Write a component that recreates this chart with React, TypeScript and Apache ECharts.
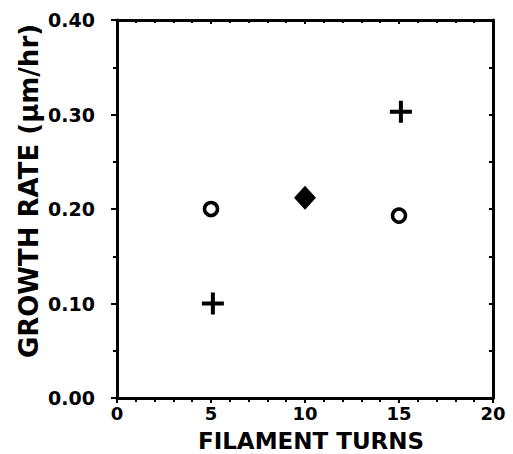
import React, { useEffect, useRef } from "react";
import * as echarts from "echarts";

const turnsCircle = [5, 15];
const rateCircle = [0.2, 0.193];
const turnsPlus = [5.1, 15.1];
const ratePlus = [0.1, 0.303];
const turnsDiamond = [10];
const rateDiamond = [0.212];

const xTicks = [0, 5, 10, 15, 20];
const yTicks = [0, 0.1, 0.2, 0.3, 0.4];

const xTitle = "FILAMENT TURNS";
const yTitle = "GROWTH RATE (μm/hr)";

const FONT = "DejaVu Sans";
const PLUS = "path://M9,0h4v9h9v4h-9v9h-4v-9h-9v-4h9z";

export default function App() {
  const ref = useRef<HTMLDivElement>(null);
  useEffect(() => {
    if (!ref.current) return;
    const chart = echarts.init(ref.current, undefined, { renderer: "svg" });
    const lineStyle = { color: "#000", width: 3 };
    const xBase = {
      type: "value" as const,
      min: xTicks[0],
      max: xTicks[xTicks.length - 1],
      interval: 5,
      splitLine: { show: false },
      axisLine: { show: true, onZero: false, lineStyle },
    };
    const yBase = {
      type: "value" as const,
      min: yTicks[0],
      max: yTicks[yTicks.length - 1],
      interval: 0.1,
      splitLine: { show: false },
      axisLine: { show: true, onZero: false, lineStyle },
    };
    chart.setOption({
      animation: false,
      backgroundColor: "#fff",
      grid: { left: 117, right: 20, top: 20, bottom: 56, containLabel: false },
      xAxis: [
        {
          ...xBase,
          position: "bottom",
          axisTick: { show: true, inside: false, length: 5, lineStyle: { color: "#000", width: 2 } },
          minorTick: { show: true, splitNumber: 5, length: 4, lineStyle: { color: "#000", width: 2 } },
          axisLabel: {
            show: true,
            margin: 6,
            color: "#000",
            fontFamily: FONT,
            fontWeight: "bold",
            fontSize: 18,
            lineHeight: 18,
            formatter: (v: number) => String(v),
          },
        },
        {
          ...xBase,
          position: "top",
          axisTick: { show: true, inside: true, length: 4, lineStyle: { color: "#000", width: 2 } },
          minorTick: { show: true, splitNumber: 5, length: 3, lineStyle: { color: "#000", width: 2 } },
          axisLabel: { show: false },
        },
      ],
      yAxis: [
        {
          ...yBase,
          position: "left",
          axisTick: { show: true, inside: false, length: 6, lineStyle: { color: "#000", width: 2 } },
          minorTick: { show: true, splitNumber: 2, length: 4, lineStyle: { color: "#000", width: 2 } },
          axisLabel: {
            show: true,
            margin: 22,
            color: "#000",
            fontFamily: FONT,
            fontWeight: "bold",
            fontSize: 19,
            formatter: (v: number) => v.toFixed(2),
          },
        },
        {
          ...yBase,
          position: "right",
          axisTick: { show: true, inside: true, length: 4, lineStyle: { color: "#000", width: 2 } },
          minorTick: { show: true, splitNumber: 2, length: 4, lineStyle: { color: "#000", width: 2 } },
          axisLabel: { show: false },
        },
      ],
      graphic: [
        {
          type: "text",
          x: 311,
          y: 441,
          style: {
            text: xTitle,
            fill: "#000",
            font: `bold 23px "${FONT}"`,
            textAlign: "center",
            textVerticalAlign: "middle",
          },
        },
        {
          type: "text",
          x: 29,
          y: 191,
          rotation: Math.PI / 2,
          style: {
            text: yTitle,
            fill: "#000",
            font: `bold 26px "${FONT}"`,
            textAlign: "center",
            textVerticalAlign: "middle",
          },
        },
      ],
      series: [
        {
          type: "scatter",
          xAxisIndex: 0,
          yAxisIndex: 0,
          data: turnsCircle.map((x, i) => [x, rateCircle[i]]),
          symbol: "circle",
          symbolSize: 13,
          itemStyle: { color: "#fff", borderColor: "#000", borderWidth: 3.5, opacity: 1 },
        },
        {
          type: "scatter",
          xAxisIndex: 0,
          yAxisIndex: 0,
          data: turnsPlus.map((x, i) => [x, ratePlus[i]]),
          symbol: PLUS,
          symbolSize: 22,
          itemStyle: { color: "#000", opacity: 1 },
        },
        {
          type: "scatter",
          xAxisIndex: 0,
          yAxisIndex: 0,
          data: turnsDiamond.map((x, i) => [x, rateDiamond[i]]),
          symbol: "diamond",
          symbolSize: [22, 24],
          itemStyle: { color: "#000", opacity: 1 },
        },
      ],
    });
    return () => chart.dispose();
  }, []);
  return <div ref={ref} style={{ width: 513, height: 454, position: "absolute", left: 0, top: 0 }} />;
}
